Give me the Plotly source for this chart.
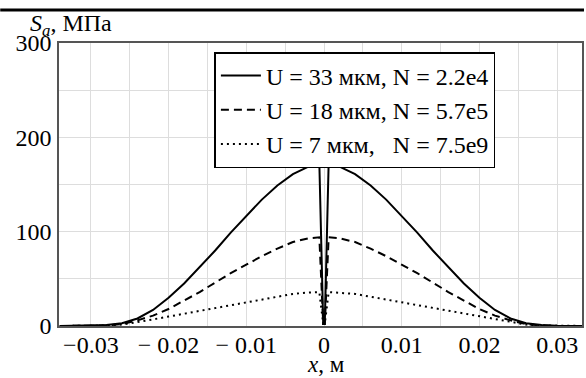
import plotly.graph_objects as go

# Data
x_pos = [-0.034, -0.030, -0.028, -0.026, -0.024, -0.022, -0.020, -0.018, -0.016,
         -0.014, -0.012, -0.010, -0.008, -0.006, -0.004, -0.002, -0.0006, -0.0001,
         0.0001, 0.0006, 0.002, 0.004, 0.006, 0.008, 0.010, 0.012, 0.014,
         0.016, 0.018, 0.020, 0.022, 0.024, 0.026, 0.028, 0.030, 0.034]

s_u33 = [0, 0.2, 1, 3, 8, 17, 30, 45, 62, 80, 99, 117, 134, 149, 161, 169, 173, 2,
         2, 173, 169, 161, 149, 134, 117, 99, 80, 62, 45, 30, 17, 8, 3, 1, 0.2, 0]
s_u18 = [0, 0.1, 0.5, 2, 6, 11, 18, 27, 36, 46, 56, 65, 74, 82, 89, 93, 94, 2,
         2, 94, 93, 89, 82, 74, 65, 56, 46, 36, 27, 18, 11, 6, 2, 0.5, 0.1, 0]
s_u7 = [0, 0.1, 0.5, 1.5, 4, 7, 10, 13, 16, 19, 22, 25, 28, 31, 34, 35.5, 36, 2,
        2, 36, 35.5, 34, 31, 28, 25, 22, 19, 16, 13, 10, 7, 4, 1.5, 0.5, 0.1, 0]

series_names = ["U = 33 мкм, N = 2.2e4",
                "U = 18 мкм, N = 5.7e5",
                "U = 7 мкм,\u00a0\u00a0\u00a0N = 7.5e9"]

x_tickvals = [-0.03, -0.02, -0.01, 0, 0.01, 0.02, 0.03]
x_ticktext = ["\u22120.03", "\u2212 0.02", "\u2212 0.01", "0", "0.01", "0.02", "0.03"]
y_tickvals = [0, 100, 200, 300]
y_ticktext = ["0", "100", "200", "300"]

FONT = "Liberation Serif"
FS = 24

fig = go.Figure()
fig.add_trace(go.Scatter(x=x_pos, y=s_u33, mode="lines", name=series_names[0],
                         line=dict(color="black", width=2, dash="solid")))
fig.add_trace(go.Scatter(x=x_pos, y=s_u18, mode="lines", name=series_names[1],
                         line=dict(color="black", width=2, dash="8px,5px")))
fig.add_trace(go.Scatter(x=x_pos, y=s_u7, mode="lines", name=series_names[2],
                         line=dict(color="black", width=2, dash="2px,4px")))

L, R, T, B = 59, 2, 43, 52
W, H = 586, 378
pw = W - L - R
ph = H - T - B


def px(xp):
    return (xp - L) / pw


def py(yp):
    return (H - B - yp) / ph


tickfont = dict(family=FONT, size=FS, color="black")

fig.update_layout(
    width=W, height=H,
    margin=dict(l=L, r=R, t=T, b=B),
    paper_bgcolor="white", plot_bgcolor="white",
    font=dict(family=FONT, size=FS, color="black"),
    showlegend=True,
    legend=dict(x=px(215), y=py(52), xanchor="left", yanchor="top",
                bgcolor="white", bordercolor="black", borderwidth=1.5,
                font=dict(family=FONT, size=24, color="black"),
                tracegroupgap=0, itemwidth=40),
    xaxis=dict(range=[-0.0341, 0.0332], tickvals=x_tickvals, ticktext=x_ticktext,
               showgrid=True, gridcolor="#dddddd", gridwidth=1,
               minor=dict(dtick=0.005, tick0=0, showgrid=True, gridcolor="#dddddd", gridwidth=1),
               showline=True, mirror=True, linecolor="#555555", linewidth=1.5,
               zeroline=False, ticks="", tickfont=tickfont, ticklabelstandoff=-4),
    yaxis=dict(range=[0, 300], tickvals=y_tickvals, ticktext=y_ticktext,
               showgrid=True, gridcolor="#dddddd", gridwidth=1,
               minor=dict(dtick=50, tick0=0, showgrid=True, gridcolor="#dddddd", gridwidth=1),
               showline=True, mirror=True, linecolor="#555555", linewidth=1.5,
               zeroline=False, ticks="", tickfont=tickfont, ticklabelstandoff=1),
    annotations=[
        dict(text="<i>S</i><sub><i>a</i></sub>, МПа", xref="paper", yref="paper",
             x=px(28), y=py(25), xanchor="left", yanchor="middle", showarrow=False,
             font=dict(family=FONT, size=FS, color="black")),
        dict(text="<i>x</i>, м", xref="paper", yref="paper",
             x=px(327), y=py(364), xanchor="center", yanchor="middle", showarrow=False,
             font=dict(family=FONT, size=23, color="black")),
    ],
    shapes=[
        dict(type="line", xref="paper", yref="paper", x0=px(0), x1=px(W), y0=py(10), y1=py(10),
             line=dict(color="black", width=3)),
    ],
)

fig.write_html("out.html", config={"displayModeBar": False},
               post_script="document.body.style.margin='0px';document.body.style.padding='0px';")
